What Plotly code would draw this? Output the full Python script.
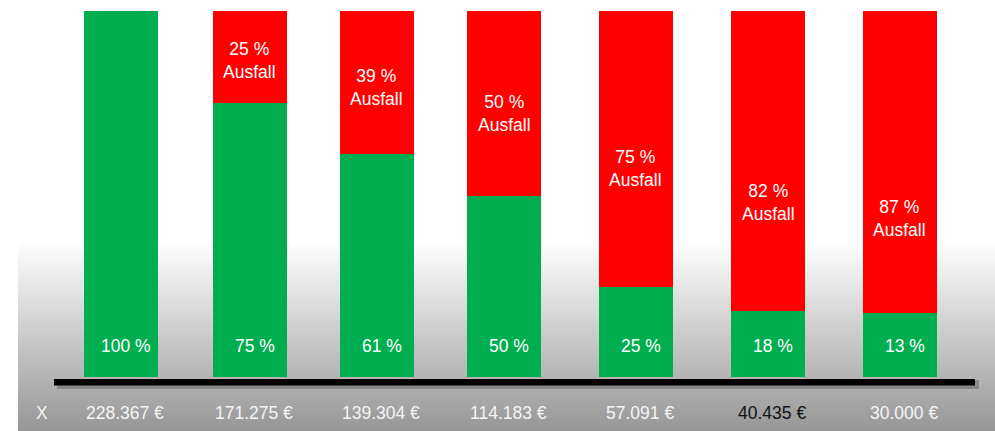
import plotly.graph_objects as go

# ---- data ----
categories = ["228.367 €", "171.275 €", "139.304 €", "114.183 €", "57.091 €", "40.435 €", "30.000 €"]
green_values = [100, 75, 61, 49.5, 24.7, 18, 17.5]          # bar heights as drawn
red_values = [0, 25, 39, 50.5, 75.3, 82, 82.5]
green_labels = ["100 %", "75 %", "61 %", "50 %", "25 %", "18 %", "13 %"]
red_labels = ["", "25 %<br>Ausfall", "39 %<br>Ausfall", "50 %<br>Ausfall",
              "75 %<br>Ausfall", "82 %<br>Ausfall", "87 %<br>Ausfall"]
tick_colors = ["#f4f4f4", "#f4f4f4", "#f4f4f4", "#f4f4f4", "#f4f4f4", "#111111", "#f4f4f4"]

# ---- layout-only settings ----
red_label_y = [0, 86.6, 79.2, 71.9, 57.1, 47.8, 43.2]   # label centres (data units)
bar_shift_px = [0, -0.7, -3.8, -6, -3.7, -1.3, 0.5]     # small horizontal nudges of each bar
W, H = 995, 431
PX_PER_CAT = 129.67
BAR_W = 0.571
GREEN = "#00AE4F"
RED = "#FF0000"
FONT = "Liberation Sans"
FS = 17.5

offsets = [-BAR_W / 2 + s / PX_PER_CAT for s in bar_shift_px]

fig = go.Figure()
fig.add_trace(go.Bar(x=categories, y=green_values, marker=dict(color=GREEN, line=dict(width=0)),
                     width=BAR_W, offset=offsets, hoverinfo="skip"))
fig.add_trace(go.Bar(x=categories, y=red_values, marker=dict(color=RED, line=dict(width=0)),
                     width=BAR_W, offset=offsets, hoverinfo="skip"))

shapes = []
# vertical gradient background at the bottom
g_top, g_bot = 240, H
for py in range(g_top, g_bot):
    t = (py - g_top) / (g_bot - g_top)
    c = int(round(255 - 105 * t))
    shapes.append(dict(type="rect", xref="paper", yref="paper", layer="below",
                       x0=18 / W, x1=1.0, y0=1 - (py + 1.6) / H, y1=1 - py / H,
                       fillcolor=f"rgb({c},{c},{c})", line=dict(width=0)))
# baseline shadow + line
shapes.append(dict(type="rect", xref="paper", yref="paper", x0=57 / W, x1=979 / W,
                   y0=1 - 389 / H, y1=1 - 380 / H, fillcolor="rgba(0,0,0,0.22)", line=dict(width=0)))
shapes.append(dict(type="rect", xref="paper", yref="paper", x0=54 / W, x1=975 / W,
                   y0=1 - 385.5 / H, y1=1 - 379 / H, fillcolor="#000000", line=dict(width=0)))

annotations = []
for i, cat in enumerate(categories):
    s = bar_shift_px[i]
    annotations.append(dict(x=cat, y=8.5, xref="x", yref="y", text=green_labels[i], showarrow=False,
                            xshift=5 + s, font=dict(family=FONT, size=FS, color="white")))
    if red_labels[i]:
        annotations.append(dict(x=cat, y=red_label_y[i], xref="x", yref="y", text=red_labels[i],
                                showarrow=False, xshift=s, font=dict(family=FONT, size=FS, color="white")))
    annotations.append(dict(x=cat, y=1 - 413 / H, xref="x", yref="paper", text=cat, showarrow=False,
                            xanchor="center", yanchor="middle", xshift=4 + s,
                            font=dict(family=FONT, size=FS, color=tick_colors[i])))
annotations.append(dict(x=42 / W, y=1 - 413 / H, xref="paper", yref="paper", text="X", showarrow=False,
                        xanchor="center", yanchor="middle",
                        font=dict(family=FONT, size=FS, color="#f4f4f4")))

fig.update_layout(
    width=W, height=H, margin=dict(l=0, r=0, t=0, b=0),
    barmode="stack", showlegend=False,
    paper_bgcolor="white", plot_bgcolor="white",
    xaxis=dict(visible=False, range=[-0.933, 6.740], fixedrange=True),
    yaxis=dict(visible=False, range=[-14.754, 103.005], fixedrange=True),
    shapes=shapes, annotations=annotations,
)

fig.write_html("out.html", config={"displayModeBar": False},
               post_script="document.body.style.margin='0px';document.body.style.overflow='hidden';")
